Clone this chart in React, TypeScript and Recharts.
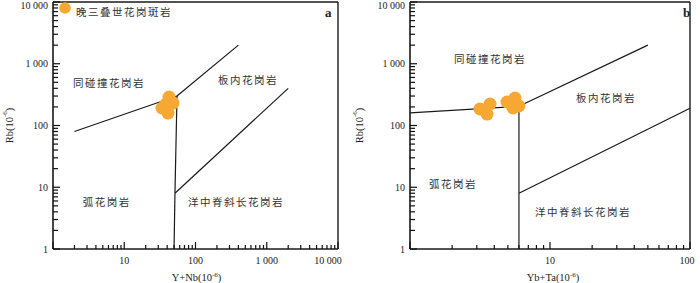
import React from 'react';
import {
  ComposedChart,
  XAxis,
  YAxis,
  Scatter,
  ReferenceLine,
  Legend,
  Label,
} from 'recharts';

// tick labels (thin-space thousands, as in the figure)
const RB_TICK_LABELS: Record<number, string> = { 1: '1', 10: '10', 100: '100', 1000: '1 000', 10000: '10 000' };
const YNB_TICK_LABELS: Record<number, string> = { 10: '10', 100: '100', 1000: '1 000', 10000: '10 000' };
const YBTA_TICK_LABELS: Record<number, string> = { 10: '10', 100: '100' };

const RB_MAJOR = [1, 10, 100, 1000, 10000];
const YNB_MAJOR = [1, 10, 100, 1000, 10000];
const YBTA_MAJOR = [1, 10, 100];
const STEPS = [2, 3, 4, 5, 6, 7, 8, 9];
const minorTicks = (majors: number[]) => majors.slice(0, -1).flatMap((d) => STEPS.map((s) => s * d));

// samples: 晚三叠世花岗斑岩
const samplesA = [
  { x: 42.5, y: 289 },
  { x: 48.3, y: 231 },
  { x: 38.5, y: 223 },
  { x: 33.9, y: 192 },
  { x: 41.1, y: 159 },
];
const samplesB = [
  { x: 3.16, y: 185 },
  { x: 3.73, y: 223 },
  { x: 3.55, y: 153 },
  { x: 4.93, y: 240 },
  { x: 5.62, y: 279 },
  { x: 6.0, y: 207 },
  { x: 5.44, y: 192 },
];

// field boundaries (Pearce et al.)
const boundariesA = [
  [{ x: 2, y: 80 }, { x: 55, y: 300 }],
  [{ x: 55, y: 300 }, { x: 400, y: 2000 }],
  [{ x: 55, y: 300 }, { x: 51.5, y: 8 }],
  [{ x: 51.5, y: 8 }, { x: 50, y: 1 }],
  [{ x: 51.5, y: 8 }, { x: 2000, y: 400 }],
];
const boundariesB = [
  [{ x: 1, y: 160 }, { x: 6, y: 205 }],
  [{ x: 6, y: 205 }, { x: 50, y: 2000 }],
  [{ x: 6, y: 205 }, { x: 6, y: 1 }],
  [{ x: 6, y: 8 }, { x: 100, y: 190 }],
];

const fieldsA = [
  { x: 6.1, y: 506, text: '同碰撞花岗岩' },
  { x: 546, y: 546, text: '板内花岗岩' },
  { x: 5.7, y: 5.8, text: '弧花岗岩' },
  { x: 370, y: 5.8, text: '洋中脊斜长花岗岩' },
];
const fieldsB = [
  { x: 3.73, y: 1194, text: '同碰撞花岗岩' },
  { x: 25.1, y: 289, text: '板内花岗岩' },
  { x: 2.03, y: 11.7, text: '弧花岗岩' },
  { x: 17.2, y: 4.1, text: '洋中脊斜长花岗岩' },
];

const ORANGE = '#F7A833';
const INK = '#1a1a1a';
const SERIF = '"Liberation Serif", "Times New Roman", serif';
const CJK = '"Noto Sans CJK SC", sans-serif';

const makeYTick = (labels: Record<number, string>) => (props: any) => {
  const { x, y, payload } = props;
  const label = labels[payload.value];
  if (!label) return <g />;
  const dy = payload.value === 10000 ? 3 : 0;
  return (
    <text x={x - 5} y={y + 3.5 + dy} textAnchor="end" fontSize={10} fontFamily={SERIF} fill="#222">
      {label}
    </text>
  );
};

const makeXTick = (labels: Record<number, string>, lastValue: number, lastDx: number) => (props: any) => {
  const { x, y, payload } = props;
  const label = labels[payload.value];
  if (!label) return <g />;
  const dx = payload.value === lastValue ? lastDx : 0;
  return (
    <text x={x + dx} y={y + 14.5} textAnchor="middle" fontSize={10} fontFamily={SERIF} fill="#222">
      {label}
    </text>
  );
};

// inward tick marks as small filled bars, placed by a scatter on the axis edge
const yTickMark = (len: number) => (props: any) => (
  <rect x={props.cx} y={props.cy - 0.6} width={len} height={1.2} fill="#111" />
);
const xTickMark = (len: number) => (props: any) => (
  <rect x={props.cx - 0.6} y={props.cy - len} width={1.2} height={len} fill="#111" />
);

const SampleDot = (props: any) => <circle cx={props.cx} cy={props.cy} r={6.5} fill={ORANGE} />;

const FieldText = (props: any) => (
  <text
    x={props.cx}
    y={props.cy}
    textAnchor="middle"
    dominantBaseline="central"
    fontSize={10.5}
    letterSpacing={1.5}
    fontFamily={CJK}
    fill="#333"
  >
    {props.payload.text}
  </text>
);

const YTitle = (props: any) => {
  const { viewBox } = props;
  const cx = 9;
  const cy = viewBox.y + viewBox.height / 2;
  return (
    <text
      x={cx}
      y={cy}
      transform={`rotate(-90 ${cx} ${cy})`}
      textAnchor="middle"
      dominantBaseline="central"
      fontSize={10.5}
      fontFamily={SERIF}
      fill="#222"
    >
      Rb(10<tspan fontSize={7} dy={-4}>-6</tspan>
      <tspan dy={4}>)</tspan>
    </text>
  );
};

const makeXTitle = (name: string, dx: number) => (props: any) => {
  const { viewBox } = props;
  const cx = viewBox.x + viewBox.width / 2 + dx;
  return (
    <text x={cx} y={281} textAnchor="middle" fontSize={10.5} fontFamily={SERIF} fill="#222">
      {name}(10<tspan fontSize={7} dy={-4}>-6</tspan>
      <tspan dy={4}>)</tspan>
    </text>
  );
};

const LegendBox = () => (
  <div style={{ display: 'flex', alignItems: 'flex-start' }}>
    <svg width={14} height={14} style={{ display: 'block' }}>
      <circle cx={7} cy={7} r={5.8} fill={ORANGE} />
    </svg>
    <span
      style={{
        marginLeft: 4,
        marginTop: 5,
        fontFamily: CJK,
        fontSize: 10.5,
        letterSpacing: 1.5,
        color: '#333',
        lineHeight: '12px',
        whiteSpace: 'nowrap',
      }}
    >
      晚三叠世花岗斑岩
    </span>
  </div>
);

interface PanelProps {
  xName: string;
  xMajor: number[];
  xLabels: Record<number, string>;
  yAxisWidth: number;
  rightMargin: number;
  samples: { x: number; y: number }[];
  boundaries: { x: number; y: number }[][];
  fields: { x: number; y: number; text: string }[];
  letter: string;
  letterLeft: number;
  lastDx: number;
  titleDx: number;
  showLegend: boolean;
}

function Panel(p: PanelProps) {
  const xMax = p.xMajor[p.xMajor.length - 1];
  const xDomain = [1, xMax];
  const yDomain = [1, 10000];
  const yMajorPts = RB_MAJOR.map((v) => ({ x: 1, y: v }));
  const yMinorPts = minorTicks(RB_MAJOR).map((v) => ({ x: 1, y: v }));
  const xMajorPts = p.xMajor.map((v) => ({ x: v, y: 1 }));
  const xMinorPts = minorTicks(p.xMajor).map((v) => ({ x: v, y: 1 }));
  return (
    <div style={{ position: 'relative', width: 350, height: 283 }}>
      <ComposedChart width={350} height={283} margin={{ top: 2, right: p.rightMargin, bottom: 0, left: 0 }}>
        <XAxis
          type="number"
          dataKey="x"
          scale="log"
          domain={xDomain}
          ticks={p.xMajor}
          interval={0}
          height={34}
          tickSize={0}
          tickMargin={0}
          tickLine={false}
          axisLine={{ stroke: INK, strokeWidth: 1.6 }}
          tick={makeXTick(p.xLabels, xMax, p.lastDx)}
          label={<Label content={makeXTitle(p.xName, p.titleDx)} />}
        />
        <YAxis
          type="number"
          dataKey="y"
          scale="log"
          domain={yDomain}
          ticks={RB_MAJOR}
          interval={0}
          width={p.yAxisWidth}
          tickSize={0}
          tickMargin={0}
          tickLine={false}
          axisLine={{ stroke: INK, strokeWidth: 1.6 }}
          tick={makeYTick(RB_TICK_LABELS)}
          label={<Label content={YTitle} />}
        />
        {/* frame: top and right edges */}
        <ReferenceLine y={10000} stroke={INK} strokeWidth={1.4} ifOverflow="visible" />
        <ReferenceLine x={xMax} stroke={INK} strokeWidth={1.4} ifOverflow="visible" />
        {p.boundaries.map((seg, i) => (
          <ReferenceLine key={i} segment={seg} stroke={INK} strokeWidth={1.2} ifOverflow="visible" />
        ))}
        {/* inward tick marks */}
        <Scatter data={yMajorPts} shape={yTickMark(7)} isAnimationActive={false} legendType="none" />
        <Scatter data={yMinorPts} shape={yTickMark(5)} isAnimationActive={false} legendType="none" />
        <Scatter data={xMajorPts} shape={xTickMark(7)} isAnimationActive={false} legendType="none" />
        <Scatter data={xMinorPts} shape={xTickMark(4)} isAnimationActive={false} legendType="none" />
        <Scatter data={p.fields} shape={FieldText} isAnimationActive={false} legendType="none" />
        <Scatter name="晚三叠世花岗斑岩" data={p.samples} shape={SampleDot} isAnimationActive={false} />
        {p.showLegend && (
          <Legend
            layout="vertical"
            align="center"
            verticalAlign="middle"
            wrapperStyle={{ left: 58, top: 1, width: 'auto', height: 'auto' }}
            content={LegendBox}
          />
        )}
      </ComposedChart>
      <div
        style={{
          position: 'absolute',
          left: p.letterLeft,
          top: 5,
          fontFamily: SERIF,
          fontWeight: 'bold',
          fontSize: 13,
          color: '#222',
          lineHeight: '16px',
        }}
      >
        {p.letter}
      </div>
    </div>
  );
}

export default function App() {
  return (
    <div style={{ position: 'absolute', left: 0, top: 0, width: 700, height: 283, background: '#fff', display: 'flex' }}>
      <Panel
        xName="Y+Nb"
        xMajor={YNB_MAJOR}
        xLabels={YNB_TICK_LABELS}
        yAxisWidth={53}
        rightMargin={12}
        samples={samplesA}
        boundaries={boundariesA}
        fields={fieldsA}
        letter="a"
        letterLeft={325}
        lastDx={-10}
        titleDx={1}
        showLegend
      />
      <Panel
        xName="Yb+Ta"
        xMajor={YBTA_MAJOR}
        xLabels={YBTA_TICK_LABELS}
        yAxisWidth={60}
        rightMargin={10}
        samples={samplesB}
        boundaries={boundariesB}
        fields={fieldsB}
        letter="b"
        letterLeft={333}
        lastDx={-3}
        titleDx={3}
        showLegend={false}
      />
    </div>
  );
}
